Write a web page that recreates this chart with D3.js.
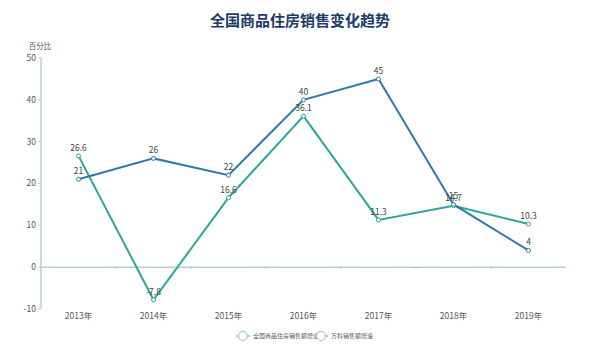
<!DOCTYPE html>
<html><head><meta charset="utf-8">
<script src="https://cdn.jsdelivr.net/npm/d3@7/dist/d3.min.js"></script>
<style>body{margin:0;background:#fff}svg{display:block}</style>
</head><body>
<svg id="c" width="600" height="346"></svg>
<script>
const categories = ["2013年","2014年","2015年","2016年","2017年","2018年","2019年"];
const nationalGrowth = [26.6, -7.8, 16.6, 36.1, 11.3, 14.7, 10.3];
const vankeGrowth = [21, 26, 22, 40, 45, 15, 4];
const seriesNames = ["全国商品住房销售额增速", "万科销售额增速"];
const yTicks = [-10, 0, 10, 20, 30, 40, 50];
const title = "全国商品住房销售变化趋势";
const yName = "百分比";

(function () {
const font = "'Noto Sans CJK SC','Noto Sans',sans-serif";
const colors = ["#2ba69b", "#2e7ca6"];
const svg = d3.select("#c");
const pl = 41, pr = 566, pt = 58, pb = 309;
const x = d3.scaleBand().domain(categories).range([pl, pr]);
const y = d3.scaleLinear().domain([-10, 50]).range([pb, pt]);

svg.append("text").attr("x", 300).attr("y", 26).attr("text-anchor", "middle")
  .attr("font-family", font).attr("font-weight", "bold").attr("font-size", 15)
  .attr("fill", "#1d3c68").text(title);

svg.append("text").attr("x", 40).attr("y", 49).attr("text-anchor", "middle")
  .attr("font-family", font).attr("font-size", 7.5).attr("fill", "#555").text(yName);

const axisColor = "#b4d0d4";
svg.append("line").attr("x1", pl).attr("x2", pl).attr("y1", pt).attr("y2", pb)
  .attr("stroke", axisColor).attr("stroke-width", 1.5);
yTicks.forEach(t => {
  svg.append("line").attr("x1", pl - 3).attr("x2", pl).attr("y1", y(t)).attr("y2", y(t))
    .attr("stroke", axisColor);
  svg.append("text").attr("x", pl - 5).attr("y", y(t)).attr("dy", "0.35em")
    .attr("text-anchor", "end").attr("font-family", font).attr("font-size", 8.5)
    .attr("fill", "#555").text(t);
});
svg.append("line").attr("x1", pl).attr("x2", pr).attr("y1", y(0)).attr("y2", y(0))
  .attr("stroke", axisColor).attr("stroke-width", 1.5);
categories.forEach((c, i) => {
  if (i > 0) svg.append("line").attr("x1", x(c)).attr("x2", x(c)).attr("y1", y(0)).attr("y2", y(0) + 1.5)
    .attr("stroke", "#9bbcc0");
  svg.append("text").attr("x", x(c) + x.bandwidth() / 2).attr("y", 319)
    .attr("text-anchor", "middle").attr("font-family", font).attr("font-size", 8.5)
    .attr("fill", "#555").text(c);
});

const cx = (d, i) => x(categories[i]) + x.bandwidth() / 2;
const line = d3.line().x((d, i) => cx(d, i)).y(d => y(d));
[nationalGrowth, vankeGrowth].forEach((data, si) => {
  svg.append("path").attr("d", line(data)).attr("fill", "none")
    .attr("stroke", colors[si]).attr("stroke-width", 2);
});
[nationalGrowth, vankeGrowth].forEach((data, si) => {
  data.forEach((v, i) => {
    svg.append("circle").attr("cx", cx(v, i)).attr("cy", y(v)).attr("r", 2)
      .attr("fill", "#fff").attr("stroke", colors[si]).attr("stroke-width", 1);
    svg.append("text").attr("x", cx(v, i)).attr("y", y(v) - 5)
      .attr("text-anchor", "middle").attr("font-family", font).attr("font-size", 8.5)
      .attr("fill", "#444").text(v);
  });
});

const legX = [236, 314];
seriesNames.forEach((n, i) => {
  const g = svg.append("g").attr("transform", `translate(${legX[i]},336)`);
  g.append("line").attr("x1", 0).attr("x2", 14).attr("y1", 0).attr("y2", 0)
    .attr("stroke", "#8ccbd6").attr("stroke-width", 1.5);
  g.append("circle").attr("cx", 7).attr("cy", 0).attr("r", 4.5).attr("fill", "#fff")
    .attr("stroke", "#8ccbd6").attr("stroke-width", 1.2);
  g.append("text").attr("x", 17).attr("y", 0).attr("dy", "0.35em")
    .attr("font-family", font).attr("font-size", 6).attr("fill", "#555").text(n);
});
})();
</script>
</body></html>
